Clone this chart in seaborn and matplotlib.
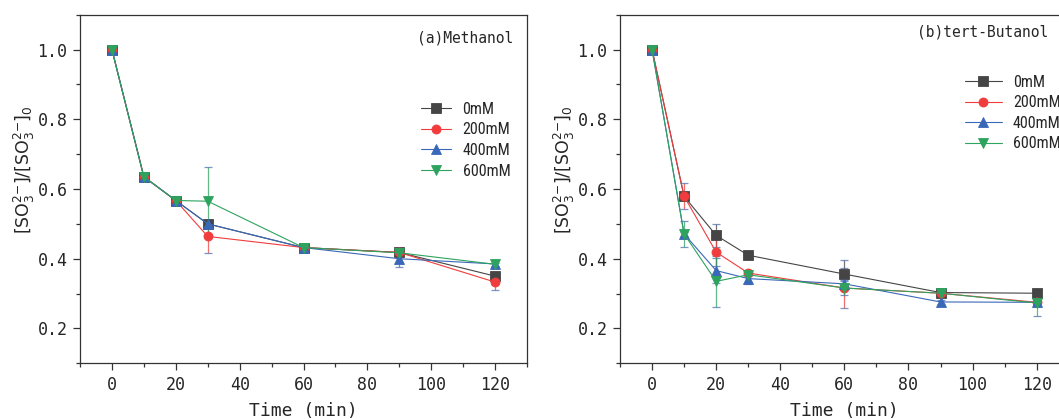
import numpy as np
import pandas as pd
import matplotlib
matplotlib.use("Agg")
import matplotlib.pyplot as plt
import seaborn as sns
from matplotlib.ticker import MultipleLocator
from matplotlib import font_manager as fm

# ---------------- data ----------------
time = [0, 10, 20, 30, 60, 90, 120]
series = ["0mM", "200mM", "400mM", "600mM"]

# (a) Methanol
a_0 = [1.0, 0.635, 0.567, 0.500, 0.432, 0.418, 0.350]
a_200 = [1.0, 0.635, 0.567, 0.464, 0.432, 0.418, 0.333]
a_400 = [1.0, 0.635, 0.567, 0.500, 0.432, 0.400, 0.385]
a_600 = [1.0, 0.635, 0.567, 0.565, 0.432, 0.417, 0.384]
a_0_err = [0, 0.005, 0.005, 0.010, 0.005, 0.005, 0.010]
a_200_err = [0, 0.0, 0.0, 0.048, 0.0, 0.005, 0.022]
a_400_err = [0, 0.0, 0.0, 0.010, 0.0, 0.024, 0.008]
a_600_err = [0, 0.0, 0.0, 0.098, 0.0, 0.005, 0.005]

# (b) tert-Butanol
b_0 = [1.0, 0.579, 0.467, 0.410, 0.356, 0.303, 0.301]
b_200 = [1.0, 0.579, 0.419, 0.359, 0.316, 0.301, 0.275]
b_400 = [1.0, 0.471, 0.366, 0.343, 0.328, 0.276, 0.275]
b_600 = [1.0, 0.471, 0.335, 0.354, 0.316, 0.301, 0.273]
b_0_err = [0, 0.010, 0.033, 0.005, 0.039, 0.005, 0.005]
b_200_err = [0, 0.037, 0.040, 0.005, 0.057, 0.005, 0.005]
b_400_err = [0, 0.005, 0.037, 0.015, 0.010, 0.005, 0.005]
b_600_err = [0, 0.038, 0.074, 0.005, 0.020, 0.005, 0.036]

panel_titles = ["(a)Methanol", "(b)tert-Butanol"]
xticks = [0, 20, 40, 60, 80, 100, 120]
yticks = [0.2, 0.4, 0.6, 0.8, 1.0]

colors = {"0mM": "#454545", "200mM": "#f03c3c", "400mM": "#3a68b8", "600mM": "#2ea35e"}
markers = {"0mM": "s", "200mM": "o", "400mM": "^", "600mM": "v"}

def long_df(vals):
    rows = []
    for s, v in zip(series, vals):
        for t, y in zip(time, v):
            rows.append({"time": t, "value": y, "conc": s})
    return pd.DataFrame(rows)

panels = [
    ([a_0, a_200, a_400, a_600], [a_0_err, a_200_err, a_400_err, a_600_err]),
    ([b_0, b_200, b_400, b_600], [b_0_err, b_200_err, b_400_err, b_600_err]),
]

sns.set_theme(style="ticks")
plt.rcParams["font.family"] = ["DejaVu Sans"]
plt.rcParams["mathtext.fontset"] = "dejavusans"

# pick a narrow font for the legend if one is installed
installed = {f.name for f in fm.fontManager.ttflist}
leg_family = None
for cand in ["Liberation Sans Narrow", "DejaVu Sans Condensed", "Roboto Condensed",
             "Open Sans Condensed", "Noto Sans Condensed"]:
    if cand in installed:
        leg_family = cand
        break
if leg_family is None:
    leg_prop = {"family": ["Noto Sans CJK SC", "DejaVu Sans"], "size": 10.5}
else:
    leg_prop = {"family": [leg_family, "DejaVu Sans"], "size": 11.5}

W, H = 1059, 419
fig = plt.figure(figsize=(W / 100, H / 100), dpi=100)
fig.patch.set_facecolor("white")

ax_pos = [
    [80 / W, (H - 363.3) / H, 447 / W, 348.6 / H],
    [620 / W, (H - 363.3) / H, 448.7 / W, 348.6 / H],
]
title_pos = [(0.861, 0.933), (0.809, 0.950)]
legend_pos = [(0.763, 0.750), (0.769, 0.828)]
legend_hl = [1.9, 2.3]
ylabel_x = [37, 577]

mono = ["DejaVu Sans Mono"]

for i, (vals, errs) in enumerate(panels):
    ax = fig.add_axes(ax_pos[i])
    df = long_df(vals)
    # error bars
    for s, v, e in zip(series, vals, errs):
        ax.errorbar(time, v, yerr=e, fmt="none", ecolor=colors[s], elinewidth=0.9,
                    capsize=3, capthick=0.9, alpha=0.75, zorder=1)
    sns.lineplot(data=df, x="time", y="value", hue="conc", style="conc",
                 hue_order=series, style_order=series, palette=colors,
                 markers=markers, dashes=False, linewidth=0.8, markersize=6.5,
                 markeredgewidth=0.6, ax=ax, legend=True, zorder=2)
    for line in ax.get_lines():
        line.set_markeredgecolor(line.get_color())
    leg = ax.get_legend()
    handles = list(leg.legend_handles)
    labels = [t.get_text() for t in leg.get_texts()]
    leg.remove()
    for h in handles:
        try:
            h.set_markeredgecolor(h.get_color())
            h.set_linewidth(0.8)
        except Exception:
            pass
    ax.legend(handles, labels, loc="upper left", bbox_to_anchor=legend_pos[i],
              frameon=False, borderpad=0, borderaxespad=0, handlelength=legend_hl[i],
              handletextpad=0.7, labelspacing=0.35, prop=leg_prop)

    ax.set_xlim(-10, 130)
    ax.set_ylim(0.1, 1.1)
    ax.set_xticks(xticks)
    ax.set_yticks(yticks)
    ax.xaxis.set_minor_locator(MultipleLocator(10))
    ax.yaxis.set_minor_locator(MultipleLocator(0.1))
    ax.tick_params(axis="both", which="major", direction="out", length=5, width=0.9,
                   color="#333333", labelsize=12, top=False, right=False, pad=4)
    ax.tick_params(axis="both", which="minor", direction="out", length=3, width=0.9,
                   color="#333333", top=False, right=False)
    for lab in ax.get_xticklabels() + ax.get_yticklabels():
        lab.set_family(mono)
    ax.yaxis.set_major_formatter(matplotlib.ticker.FormatStrFormatter("%.1f"))
    for sp in ax.spines.values():
        sp.set_color("#333333")
        sp.set_linewidth(0.9)
    ax.set_xlabel("Time (min)", family=mono, fontsize=13, labelpad=6)
    ax.set_ylabel(r"[SO$_3^{2{-}}$]/[SO$_3^{2{-}}$]$_0$", fontsize=12.5)
    ax.yaxis.set_label_coords((ylabel_x[i] - ax_pos[i][0] * W) / (ax_pos[i][2] * W), 0.555)
    ax.text(title_pos[i][0], title_pos[i][1], panel_titles[i], transform=ax.transAxes,
            ha="center", va="center", family=mono, fontsize=10.5)
    ax.set_facecolor("white")

fig.savefig("out.png", dpi=100, facecolor="white")
